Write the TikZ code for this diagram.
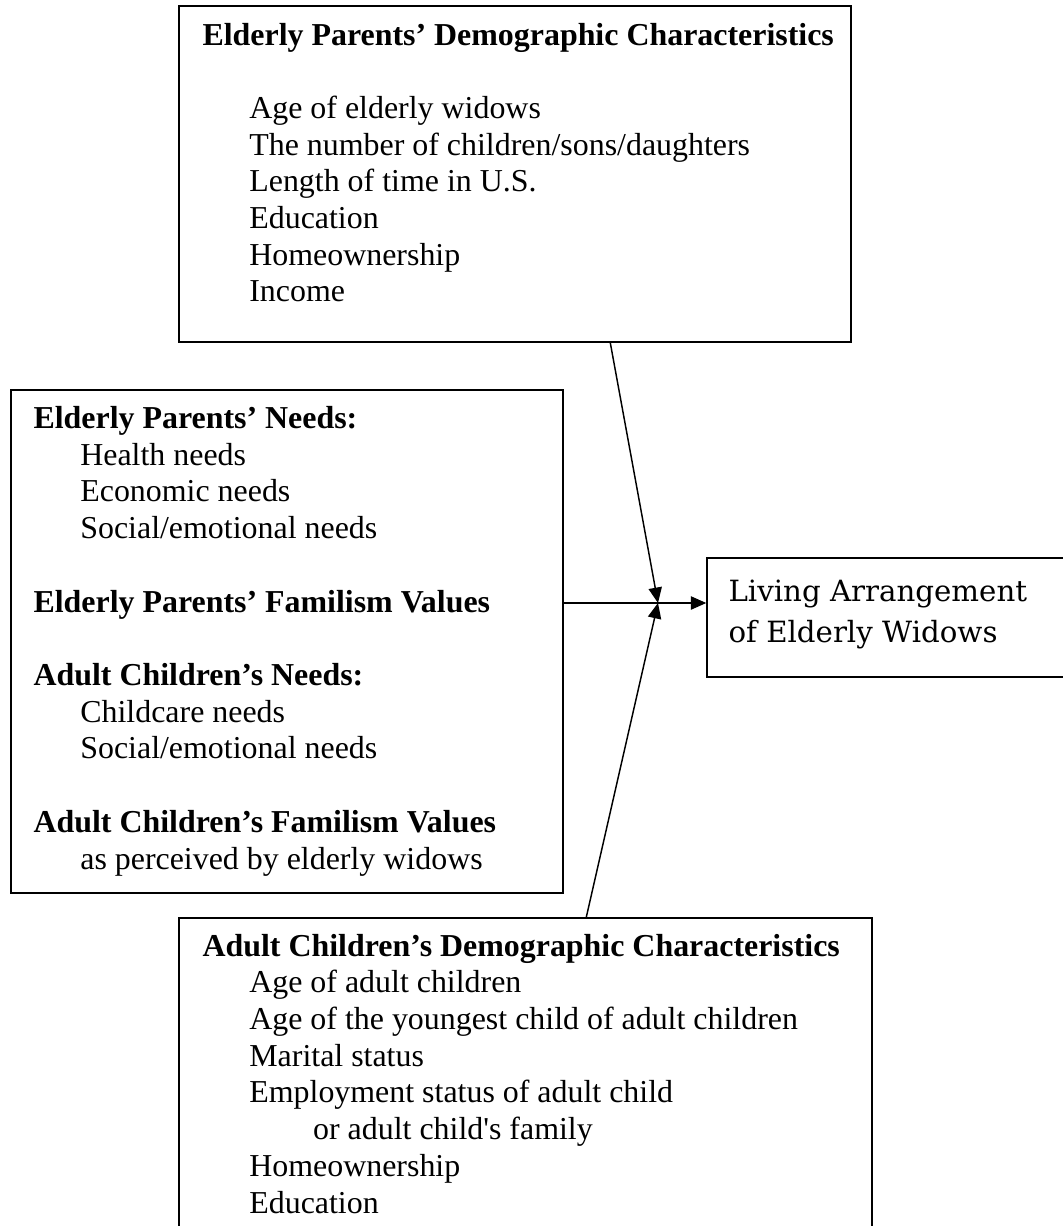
\documentclass[tikz,border=0pt]{standalone}
\usepackage{fontspec}
\setmainfont{Liberation Serif}
\newfontfamily\outfont{DejaVu Serif}
\usetikzlibrary{arrows.meta,fit,calc}
\newcommand{\ind}{\hspace*{17.6pt}}
\begin{document}
\begin{tikzpicture}[x=0.376pt,y=-0.376pt,
    box/.style={draw,line width=0.55pt,inner sep=0pt},
    txt/.style={anchor=base west,inner sep=0pt,align=left,font=\fontsize{12}{13.8}\selectfont},
    arr/.style={line width=0.55pt,-{Triangle[length=5.8pt,width=5pt]}}]
    \useasboundingbox (0,0) rectangle (1062,1226);
    \node[box,fit={(179,6) (851,342)}] (parentdemo) {};
    \node[box,fit={(11,390) (563,893)}] (needs) {};
    \node[box,fit={(707,558) (1068,677)}] (living) {};
    \node[box,fit={(179,918) (872,1234)}] (childdemo) {};
    \node[txt] (parentdemo-text) at (202,302) {\textbf{Elderly Parents’ Demographic Characteristics}\\[13.8pt]
        \ind Age of elderly widows\\
        \ind The number of children/sons/daughters\\
        \ind Length of time in U.S.\\
        \ind Education\\
        \ind Homeownership\\
        \ind Income};
    \node[txt] (needs-text) at (33,869) {\textbf{Elderly Parents’ Needs:}\\
        \ind Health needs\\
        \ind Economic needs\\
        \ind Social/emotional needs\\[13.8pt]
        \textbf{Elderly Parents’ Familism Values}\\[13.8pt]
        \textbf{Adult Children’s Needs:}\\
        \ind Childcare needs\\
        \ind Social/emotional needs\\[13.8pt]
        \textbf{Adult Children’s Familism Values}\\
        \ind as perceived by elderly widows};
    \node[txt,font=\outfont\fontsize{11}{15.4}\selectfont] (living-text) at (728,642) {Living Arrangement\\of Elderly Widows};
    \node[txt] (childdemo-text) at (202,1213) {\textbf{Adult Children’s Demographic Characteristics}\\
        \ind Age of adult children\\
        \ind Age of the youngest child of adult children\\
        \ind Marital status\\
        \ind Employment status of adult child\\
        \ind\hspace*{24pt}or adult child\textquotesingle s family\\
        \ind Homeownership\\
        \ind Education};
    \coordinate (meet) at (658,603);
    \draw[arr] ($(parentdemo.south west)+(432,0)$) -- (meet);
    \draw[arr] ($(childdemo.north west)+(408,0)$) -- (meet);
    \draw[arr] (needs.east |- meet) -- (living.west |- meet);
\end{tikzpicture}
\end{document}
